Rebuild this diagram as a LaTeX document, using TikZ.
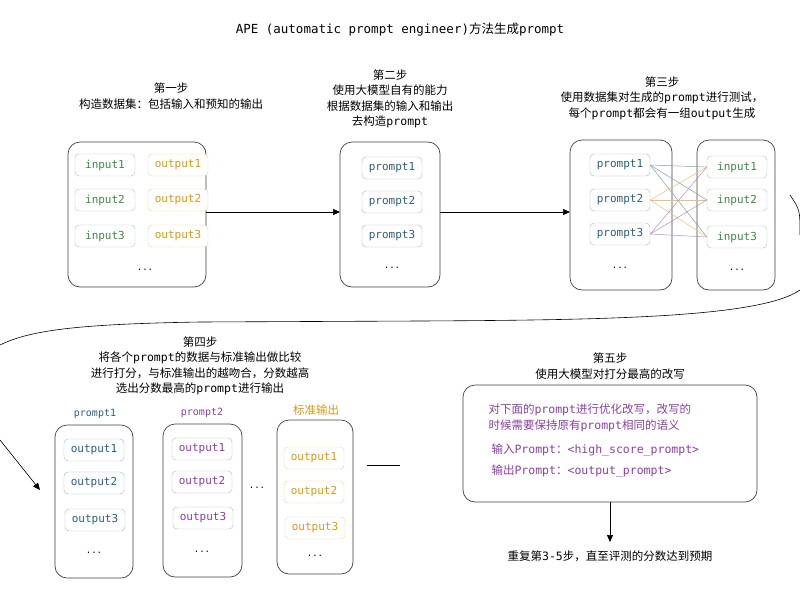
\documentclass[tikz,border=0pt]{standalone}
\usepackage{fontspec}
\setmainfont{Noto Sans CJK SC}
\setmonofont{DejaVu Sans Mono}
\usetikzlibrary{arrows.meta}
\definecolor{cg}{HTML}{3F8A47}
\definecolor{co}{HTML}{D49A1A}
\definecolor{cb}{HTML}{2C5F7C}
\definecolor{cp}{HTML}{8A3FA0}
\begin{document}
\begin{tikzpicture}[x=1pt,y=-1pt,font=\fontsize{11.5}{15.5}\selectfont,
  outer/.style={draw=black!75,rounded corners=12pt,line width=0.7pt},
  item/.style={draw=#1!45,text=#1,rounded corners=4pt,font=\ttfamily\fontsize{11}{12}\selectfont,minimum width=60pt,minimum height=22pt,fill=white},
  lab/.style={align=center},
  arr/.style={-{Triangle[length=7pt,width=6pt]},line width=0.6pt},
  dots/.style={font=\ttfamily\small}]
\useasboundingbox (0,0) rectangle (800,600);
\node (title) at (400,30) {\ttfamily\fontsize{12.5}{14}\selectfont APE (automatic prompt engineer)\rmfamily 方法生成\ttfamily prompt};
% step 1
\node[lab] (l1) at (171,96) {第一步\\构造数据集：包括输入和预知的输出};
\draw[outer] (68,142) rectangle (206,287);
\node[item=cg] (i1) at (105,165) {input1};
\node[item=cg] (i2) at (105,200) {input2};
\node[item=cg] (i3) at (105,236) {input3};
\node[item=co] (o1) at (178,165) {output1};
\node[item=co] (o2) at (178,200) {output2};
\node[item=co] (o3) at (178,236) {output3};
\node[dots] (d1) at (145,270) {...};
\coordinate (b1r) at (206,212); \coordinate (b2l) at (340,212);
\draw[arr] (b1r) -- (b2l);
% step 2
\node[lab] (l2) at (390,99) {第二步\\使用大模型自有的能力\\根据数据集的输入和输出\\去构造\texttt{prompt}};
\draw[outer] (340,142) rectangle (440,287);
\node[item=cb] (p1) at (392,168) {prompt1};
\node[item=cb] (p2) at (392,202) {prompt2};
\node[item=cb] (p3) at (392,236) {prompt3};
\node[dots] (d2) at (392,268) {...};
\coordinate (b2r) at (440,212); \coordinate (b3l) at (570,212);
\draw[arr] (b2r) -- (b3l);
% step 3
\node[lab] (l3) at (662,98) {第三步\\使用数据集对生成的\texttt{prompt}进行测试，\\每个\texttt{prompt}都会有一组\texttt{output}生成};
\draw[outer] (570,140) rectangle (672,290);
\draw[outer] (697,140) rectangle (775,290);
\node[item=cb] (q1) at (620,165) {prompt1};
\node[item=cb] (q2) at (620,200) {prompt2};
\node[item=cb] (q3) at (620,234) {prompt3};
\node[item=cg] (j1) at (737,167) {input1};
\node[item=cg] (j2) at (737,200) {input2};
\node[item=cg] (j3) at (737,237) {input3};
\node[dots] (d3) at (620,268) {...};
\node[dots] (d4) at (737,270) {...};
\foreach \a/\c in {q1/cb,q2/co,q3/cp}
  \foreach \b in {j1,j2,j3}
    \draw[\c!60,line width=0.5pt] (\a.east) -- (\b.west);
% long curve
\draw[line width=0.6pt] (790,195) .. controls (800,210) .. (800,235);
\draw[line width=0.6pt] (800,290) .. controls (760,318) and (600,320) .. (420,321) -- (200,322) .. controls (80,324) and (30,330) .. (0,345);
\coordinate (cs) at (0,440); \coordinate (ce) at (40,490);
\draw[arr] (cs) -- (ce);
% step 4
\node[lab] (l4) at (200,366) {第四步\\将各个\texttt{prompt}的数据与标准输出做比较\\进行打分，与标准输出的越吻合，分数越高\\选出分数最高的\texttt{prompt}进行输出};
\node[text=cb,font=\ttfamily] (t1) at (95,414) {prompt1};
\node[text=cp,font=\ttfamily] (t2) at (202,413) {prompt2};
\node[text=co] (t3) at (316,410) {标准输出};
\draw[outer] (55,425) rectangle (133,578);
\draw[outer] (163,424) rectangle (242,577);
\draw[outer] (277,420) rectangle (353,574);
\node[item=cb] (r1) at (94,450) {output1};
\node[item=cb] (r2) at (94,483) {output2};
\node[item=cb] (r3) at (95,520) {output3};
\node[item=cp] (s1) at (202,449) {output1};
\node[item=cp] (s2) at (202,482) {output2};
\node[item=cp] (s3) at (203,518) {output3};
\node[item=co] (u1) at (314,458) {output1};
\node[item=co] (u2) at (314,492) {output2};
\node[item=co] (u3) at (315,528) {output3};
\node[dots] (e1) at (94,553) {...};
\node[dots] (e2) at (202,552) {...};
\node[dots] (e3) at (315,556) {...};
\node[dots] (e4) at (257,488) {...};
% step 5
\node[lab] (l5) at (610,366) {第五步\\使用大模型对打分最高的改写};
\draw[outer] (463,385) rectangle (757,502);
\node[anchor=west,text=cp,align=left] (m1) at (485,418) {对下面的\texttt{prompt}进行优化改写，改写的\\时候需要保持原有\texttt{prompt}相同的语义};
\node[anchor=west,text=cp] (m2) at (488,450) {输入\texttt{Prompt}：\texttt{<high\_score\_prompt>}};
\node[anchor=west,text=cp] (m3) at (488,471) {输出\texttt{Prompt}：\texttt{<output\_prompt>}};
\coordinate (b4r) at (367,465); \coordinate (b5l) at (400,465);
\draw[line width=0.6pt] (b4r) -- (b5l);
\coordinate (b5b) at (610,502); \coordinate (fin) at (610,542);
\draw[arr] (b5b) -- (fin);
\node (last) at (610,556) {重复第\texttt{3-5}步，直至评测的分数达到预期};
\end{tikzpicture}
\end{document}
